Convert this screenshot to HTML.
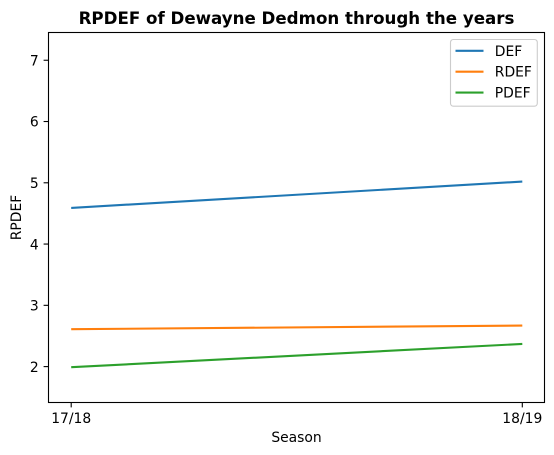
<!DOCTYPE html>
<html>
<head>
<meta charset="utf-8">
<style>
html,body{margin:0;padding:0;background:#fff;}
svg{display:block;}
text{font-family:"DejaVu Sans",sans-serif;fill:#000;}
</style>
</head>
<body>
<svg id="chart" xmlns="http://www.w3.org/2000/svg" width="554" height="455" viewBox="0 0 554 455"></svg>
<script>
const categories = ["17/18", "18/19"];
const seriesNames = ["DEF", "RDEF", "PDEF"];
const defValues = [4.59, 5.02];
const rdefValues = [2.61, 2.67];
const pdefValues = [1.99, 2.37];
const yTicks = [2, 3, 4, 5, 6, 7];
const seriesColors = ["#1f77b4", "#ff7f0e", "#2ca02c"];
const allSeries = [defValues, rdefValues, pdefValues];

const NS = "http://www.w3.org/2000/svg";
const svg = document.getElementById("chart");
const plot = {left: 48.5, right: 544.5, top: 32.5, bottom: 402.5};

function xScale(i) {
  const x0 = 71.2, x1 = 522.3;
  return x0 + (x1 - x0) * i / (categories.length - 1);
}
function yScale(v) {
  return 366.6 - (v - 2) * 61.27;
}
function make(tag, attrs, parent) {
  const el = document.createElementNS(NS, tag);
  for (const k in attrs) el.setAttribute(k, attrs[k]);
  (parent || svg).appendChild(el);
  return el;
}

const bg = make("rect", {x: 0, y: 0, width: 554, height: 455, fill: "#fff"});



// series lines
allSeries.forEach(function (values, s) {
  const pts = values.map(function (v, i) { return xScale(i) + "," + yScale(v); }).join(" ");
  const line = make("polyline", {points: pts, fill: "none", stroke: seriesColors[s], "stroke-width": 2.08, "stroke-linecap": "butt"});
  
  
});

// axes frame
const frame = make("rect", {x: plot.left, y: plot.top, width: plot.right - plot.left, height: plot.bottom - plot.top, fill: "none", stroke: "#000", "stroke-width": 1.1});



// y ticks
yTicks.forEach(function (t) {
  const y = yScale(t);
  const tick = make("line", {x1: plot.left - 4.9, x2: plot.left, y1: y, y2: y, stroke: "#000", "stroke-width": 1.1});
  
  
  const label = make("text", {x: plot.left - 9.8, y: y + 5.2, "text-anchor": "end", "font-size": 13.89});
  label.textContent = String(t);
  
  
});

// x ticks
categories.forEach(function (c, i) {
  const x = xScale(i);
  const tick = make("line", {x1: x, x2: x, y1: plot.bottom, y2: plot.bottom + 4.9, stroke: "#000", "stroke-width": 1.1});
  
  
  const label = make("text", {x: x, y: 423, "text-anchor": "middle", "font-size": 13.89});
  label.textContent = c;
  
  
});

// title and axis titles
const title = make("text", {x: 296.5, y: 24, "text-anchor": "middle", "font-size": 16.67, "font-weight": "bold"});
title.textContent = "RPDEF of Dewayne Dedmon through the years";



const xTitle = make("text", {x: 296.5, y: 442, "text-anchor": "middle", "font-size": 13.89});
xTitle.textContent = "Season";



const yTitle = make("text", {x: 0, y: 0, "text-anchor": "middle", "font-size": 13.89, transform: "translate(21 217.5) rotate(-90)"});
yTitle.textContent = "RPDEF";



// legend
const legendBox = make("rect", {x: 450.5, y: 39.5, width: 86.8, height: 66.7, rx: 2.8, ry: 2.8, fill: "#fff", "fill-opacity": 0.8, stroke: "#ccc", "stroke-width": 1.1});



seriesNames.forEach(function (name, s) {
  const y = 50.8 + s * 20.9;
  const swatch = make("line", {x1: 455.5, x2: 483.5, y1: y, y2: y, stroke: seriesColors[s], "stroke-width": 2.08});
  
  
  const label = make("text", {x: 494.8, y: y + 5, "font-size": 13.89});
  label.textContent = name;
  
  
});
</script>
</body>
</html>
